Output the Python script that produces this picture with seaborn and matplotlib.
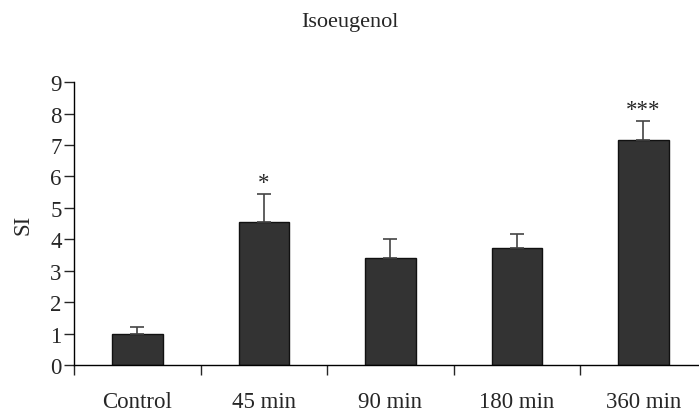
import numpy as np
import pandas as pd
import seaborn as sns
import matplotlib.pyplot as plt

# values
groups = ["Control", "45 min", "90 min", "180 min", "360 min"]
si_mean = [1.0, 4.54, 3.39, 3.73, 7.17]
si_err = [0.2, 0.91, 0.61, 0.43, 0.61]
stars = ["", "*", "", "", "***"]

df = pd.DataFrame({"group": groups, "SI": si_mean})

sns.set_style("white")
plt.rcParams["font.family"] = ["Liberation Serif", "DejaVu Serif"]
fs = 16.5

fig = plt.figure(figsize=(6.99, 4.14), dpi=100)
ax = fig.add_axes([0.106, 0.116, 0.905, 0.683])

sns.barplot(data=df, x="group", y="SI", color="#333333", width=0.4,
            edgecolor="#111111", linewidth=1, errorbar=None, saturation=1, ax=ax)

x = np.arange(len(groups))
ax.errorbar(x, si_mean, yerr=[np.zeros(len(si_err)), si_err], fmt="none",
            ecolor="#444444", elinewidth=1.2, capsize=5, capthick=1.2)

for xi, m, e, s in zip(x, si_mean, si_err, stars):
    if s:
        ax.text(xi, m + e + 0.02, s, ha="center", va="bottom", fontsize=fs)

ax.set_xlim(-0.5, len(groups) - 0.5)
ax.set_ylim(0, 9)
ax.set_yticks(range(0, 10))
ax.set_xticks(x)
ax.set_xticks(np.arange(-0.5, len(groups)), minor=True)
ax.tick_params(axis="x", which="major", length=0, pad=18.5, labelsize=fs)
ax.tick_params(axis="x", which="minor", length=7, width=1, direction="out", bottom=True)
ax.tick_params(axis="y", length=7, width=1, direction="out", left=True, labelsize=fs, pad=2)
ax.set_xlabel("")
ax.set_ylabel("SI", fontsize=fs, labelpad=12)
for sp in ["top", "right"]:
    ax.spines[sp].set_visible(False)
for sp in ["left", "bottom"]:
    ax.spines[sp].set_color("black")
    ax.spines[sp].set_linewidth(1)

fig.text(0.5, 0.945, "Isoeugenol", ha="center", va="center", fontsize=16)

fig.savefig("out.png", dpi=100)
